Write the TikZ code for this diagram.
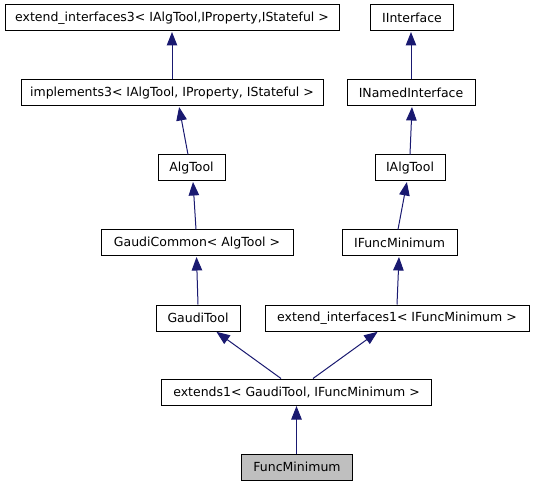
\documentclass[tikz,border=0pt]{standalone}
\usepackage{fontspec}
\setmainfont{DejaVu Sans}
\usetikzlibrary{arrows.meta}
\definecolor{edgeblue}{HTML}{191970}
\definecolor{boxgrey}{HTML}{BFBFBF}
\tikzset{
  cls/.style={draw=black, line width=1pt, fill=white, minimum height=26pt, inner sep=0pt, font=\fontsize{12.5}{14}\selectfont, text=black},
  edge/.style={draw=edgeblue, line width=1pt, -{Triangle[length=13.5pt,width=10.5pt]}, shorten >=0.5pt},
}
\begin{document}
\begin{tikzpicture}[x=1pt,y=1pt]
\useasboundingbox (0,0) rectangle (535,485);
\node[cls, minimum width=334pt] (ei3) at (172,467) {extend\_interfaces3< IAlgTool,IProperty,IStateful >};
\node[cls, minimum width=302pt] (impl3) at (172,392) {implements3< IAlgTool, IProperty, IStateful >};
\node[cls, minimum width=67pt] (algtool) at (191.5,317) {AlgTool};
\node[cls, minimum width=192pt] (gcommon) at (197,242) {GaudiCommon< AlgTool >};
\node[cls, minimum width=84pt] (gtool) at (198,167) {GaudiTool};
\node[cls, minimum width=264pt] (ei1) at (397,167) {extend\_interfaces1< IFuncMinimum >};
\node[cls, minimum width=270pt] (ext1) at (296.5,93) {extends1< GaudiTool, IFuncMinimum >};
\node[cls, minimum width=111pt, fill=boxgrey] (funcmin) at (297,18) {FuncMinimum};
\node[cls, minimum width=83pt] (iint) at (412,467) {IInterface};
\node[cls, minimum width=128pt] (inamed) at (411,392) {INamedInterface};
\node[cls, minimum width=70pt] (ialg) at (410,317) {IAlgTool};
\node[cls, minimum width=115pt] (ifm) at (399.5,242) {IFuncMinimum};

\draw[edge] (impl3.north) -- (ei3.south);
\draw[edge] ([xshift=-3.5pt]algtool.north) -- ([xshift=7pt]impl3.south);
\draw[edge] ([xshift=-1pt]gcommon.north) -- ([xshift=1.5pt]algtool.south);
\draw[edge] (gtool.north) -- ([xshift=-0.5pt]gcommon.south);
\draw[edge] ([xshift=-15.5pt]ext1.north) -- ([xshift=18pt]gtool.south);
\draw[edge] ([xshift=16.5pt]ext1.north) -- ([xshift=-19pt]ei1.south);
\draw[edge] ([xshift=-0.5pt]funcmin.north) -- (ext1.south);
\draw[edge] (ei1.north) -- ([xshift=-0.5pt]ifm.south);
\draw[edge] ([xshift=-1.5pt]ifm.north) -- ([xshift=-3pt]ialg.south);
\draw[edge] (ialg.north) -- ([xshift=1pt]inamed.south);
\draw[edge] (inamed.north) -- ([xshift=-1pt]iint.south);
\end{tikzpicture}
\end{document}
